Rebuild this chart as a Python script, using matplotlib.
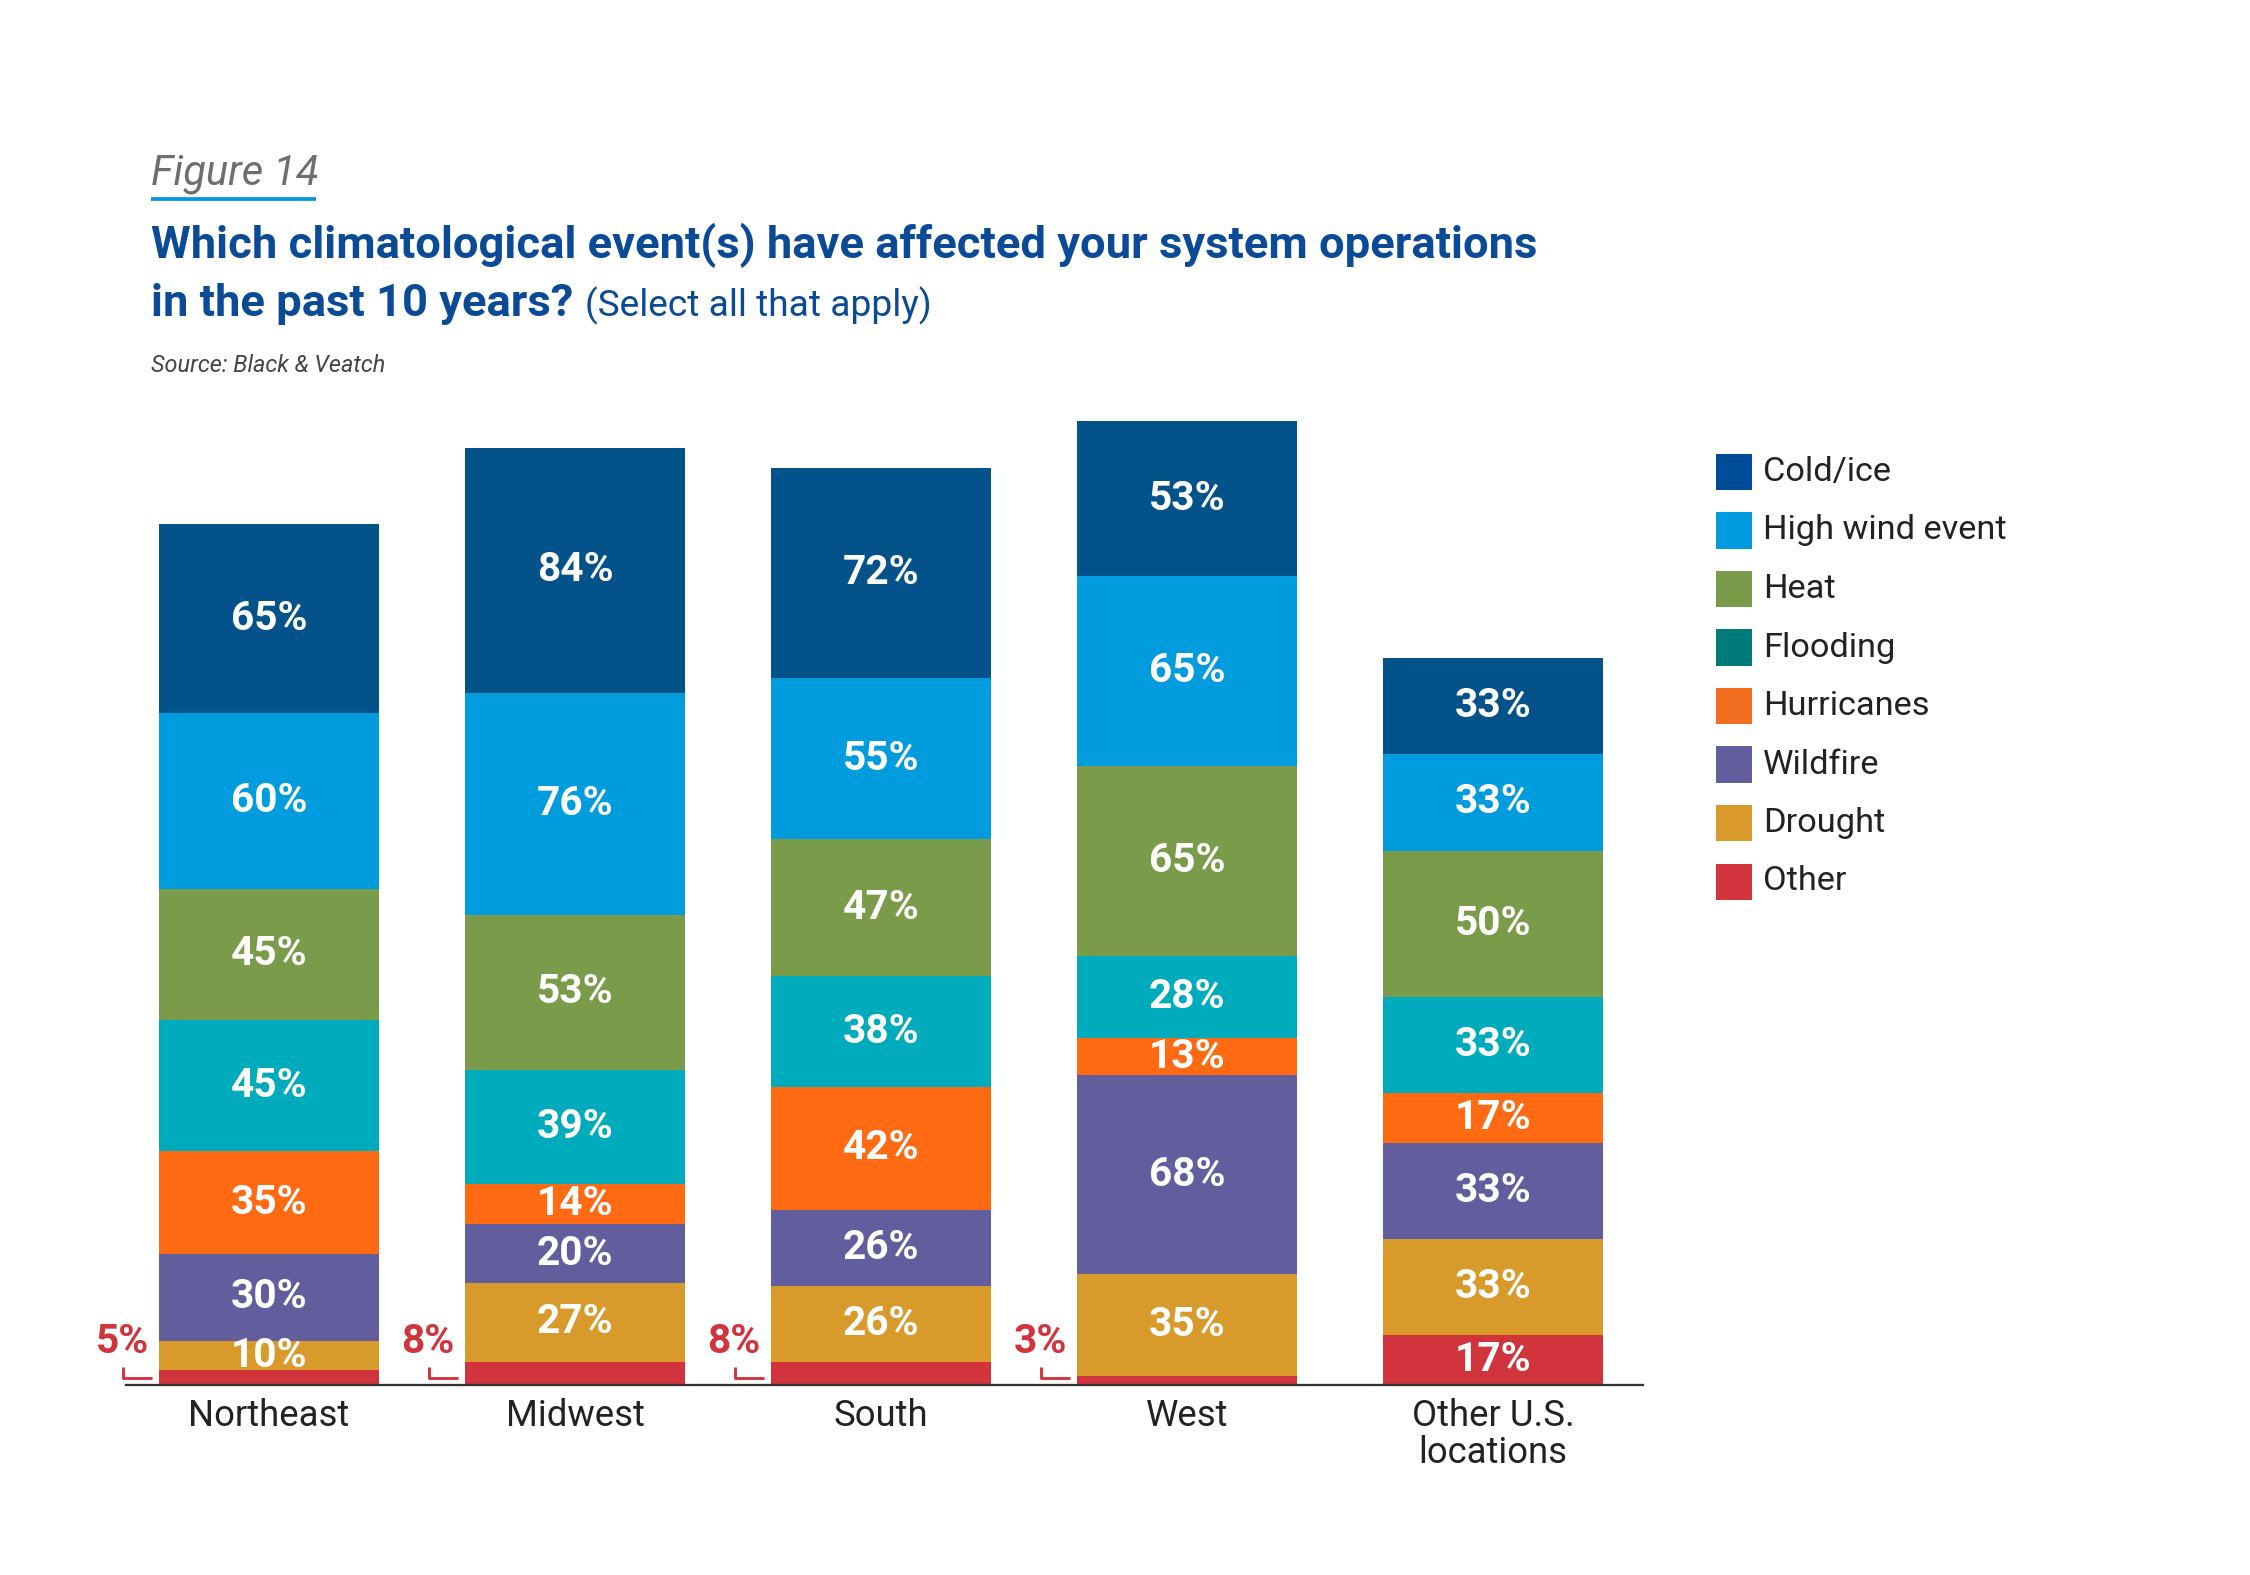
import matplotlib
matplotlib.use("Agg")
import matplotlib.pyplot as plt
from matplotlib.patches import Rectangle
from matplotlib.lines import Line2D
import numpy as np

plt.rcParams['font.family'] = ['Roboto', 'DejaVu Sans']

# ---------------- data ----------------
regions = ["Northeast", "Midwest", "South", "West", "Other U.S.\nlocations"]
series = ["Cold/ice", "High wind event", "Heat", "Flooding",
          "Hurricanes", "Wildfire", "Drought", "Other"]
# stacking order bottom -> top
other      = [5, 8, 8, 3, 17]
drought    = [10, 27, 26, 35, 33]
wildfire   = [30, 20, 26, 68, 33]
hurricanes = [35, 14, 42, 13, 17]
flooding   = [45, 39, 38, 28, 33]
heat       = [45, 53, 47, 65, 50]
high_wind  = [60, 76, 55, 65, 33]
cold_ice   = [65, 84, 72, 53, 33]

stack = [("Other", other), ("Drought", drought), ("Wildfire", wildfire),
         ("Hurricanes", hurricanes), ("Flooding", flooding), ("Heat", heat),
         ("High wind event", high_wind), ("Cold/ice", cold_ice)]

bar_colors = {"Cold/ice": "#03528A", "High wind event": "#009CDE", "Heat": "#7A9B4A",
              "Flooding": "#00ACBB", "Hurricanes": "#FF6A12", "Wildfire": "#625E9E",
              "Drought": "#D99A2C", "Other": "#D1343C"}
legend_colors = {"Cold/ice": "#004B97", "High wind event": "#009ADE", "Heat": "#7A9B4A",
                 "Flooding": "#007B7A", "Hurricanes": "#F26F22", "Wildfire": "#625E9E",
                 "Drought": "#D99A2C", "Other": "#D1343C"}

W, H = 2250, 1575
fig = plt.figure(figsize=(15, 10.5), dpi=150)

def fx(x):
    return x / W

def fy(y):
    return 1 - y / H

# axes: baseline at y=1385 px, ~2.92 px per percent
ax_left, ax_right = 126, 1643
base_y = 1385
ymax = 340
ax_h = ymax * 2.92
ax = fig.add_axes([fx(ax_left), fy(base_y), (ax_right - ax_left) / W, ax_h / H])
ax.set_xlim(-0.467, 4.49)
ax.set_ylim(0, ymax)

x = np.arange(len(regions))
bw = 0.72
lab_size = 19.5
bottom = np.zeros(len(regions))
for name, vals in stack:
    vals = np.array(vals, dtype=float)
    ax.bar(x, vals, bw, bottom=bottom, color=bar_colors[name], edgecolor='none', zorder=2)
    for i, v in enumerate(vals):
        if name == "Other" and v < 10:
            # outside label with bracket
            xl = x[i] - bw / 2
            ax.text(xl - 0.12, 14.6, f"{int(v)}%", ha='center', va='center',
                    color=bar_colors["Other"], fontsize=lab_size, fontweight='bold',
                    zorder=3, clip_on=False)
            ax.plot([xl - 0.118, xl - 0.118, xl - 0.023], [6.0, 2.4, 2.4],
                    color=bar_colors["Other"], lw=1.4, solid_capstyle='butt',
                    zorder=3, clip_on=False)
        else:
            ax.text(x[i], bottom[i] + v / 2, f"{int(v)}%", ha='center', va='center',
                    color='white', fontsize=lab_size, fontweight='bold', zorder=3)
    bottom += vals

for s in ["top", "left", "right"]:
    ax.spines[s].set_visible(False)
ax.spines["bottom"].set_color("#333333")
ax.spines["bottom"].set_linewidth(1.1)
ax.set_yticks([])
ax.set_xticks(x)
ax.set_xticklabels(regions, fontsize=17.5, color="#222222", linespacing=1.05)
ax.tick_params(axis='x', length=0, pad=6)

# ---------------- titles ----------------
fig.text(fx(151), fy(184), "Figure 14", fontsize=20, style='italic', fontweight='normal',
         color="#6D6E71", ha='left', va='baseline')
fig.add_artist(Line2D([fx(151), fx(316)], [fy(198.5), fy(198.5)], color="#0099DD", lw=1.8,
                      solid_capstyle='butt'))

title_blue = "#0A4A96"
t1 = fig.text(fx(151), fy(258), "Which climatological event(s) have affected your system operations",
              fontsize=21.8, fontweight='bold', color=title_blue, ha='left', va='baseline')
t2 = fig.text(fx(151), fy(316), "in the past 10 years?", fontsize=21.8, fontweight='bold',
              color=title_blue, ha='left', va='baseline')
fig.canvas.draw()
r = fig.canvas.get_renderer()
bb = t2.get_window_extent(r)
fig.text(bb.x1 / W + fx(12), fy(316), "(Select all that apply)", fontsize=17.8,
         fontweight='normal', color=title_blue, ha='left', va='baseline')

fig.text(fx(151), fy(372), "Source: Black & Veatch", fontsize=11.3, style='italic',
         color="#444444", ha='left', va='baseline')

# ---------------- legend ----------------
leg_x, leg_y0, sq, step = 1716, 454, 36, 58.5
for k, name in enumerate(series):
    y0 = leg_y0 + k * step
    fig.add_artist(Rectangle((fx(leg_x), fy(y0 + sq)), sq / W, sq / H,
                             facecolor=legend_colors[name], edgecolor='none',
                             transform=fig.transFigure))
    fig.text(fx(1763), fy(y0 + sq / 2), name, fontsize=16.5, color="#222222",
             ha='left', va='center')

fig.savefig("out.png", dpi=150, facecolor='white')
